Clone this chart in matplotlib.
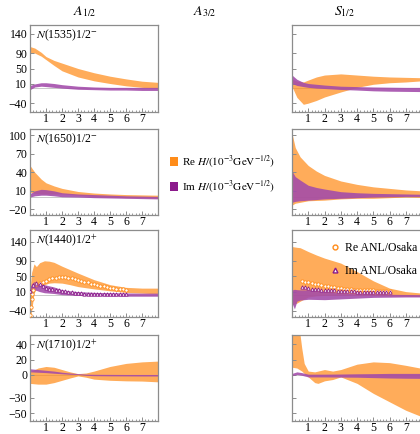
import numpy as np
import matplotlib
matplotlib.use("Agg")
import matplotlib.pyplot as plt
from matplotlib.patches import Patch
from matplotlib.lines import Line2D
from matplotlib.ticker import MultipleLocator

plt.rcParams['font.family'] = ['Liberation Serif', 'DejaVu Serif']
plt.rcParams['mathtext.fontset'] = 'stix'

# ---- data ----
col_titles = [r'$A_{1/2}$', r'$A_{3/2}$', r'$S_{1/2}$']
row_labels = [r'$N$(1535)1/2$^{-}$', r'$N$(1650)1/2$^{-}$',
              r'$N$(1440)1/2$^{+}$', r'$N$(1710)1/2$^{+}$']
row_ylims = [(-63, 163), (-29, 110), (-56, 170), (-60, 52)]
row_yticks = [[140, 90, 50, 10, -40], [100, 70, 40, 10, -20],
              [140, 90, 50, 10, -40], [40, 20, 0, -30, -50]]

# N(1535) A1/2
a1535_x = [0, 0.3, 0.7, 1, 1.5, 2, 3, 4, 5, 6, 7, 8]
a1535_re_hi = [107, 103, 92, 81, 71, 64, 50, 39, 30, 23, 17, 14]
a1535_re_lo = [92, 90, 82, 73, 58, 44, 28, 18, 11, 5, 1, -2]
a1535_im_hi = [6, 10, 13, 13, 11, 8, 4, 2, 1, 1, 1, 1]
a1535_im_lo = [-5, 2, 4, 3, 1, -1, -4, -5, -6, -6, -7, -7]
# N(1535) S1/2
s1535_x = [0, 0.3, 0.7, 1, 1.5, 2, 3, 4, 5, 6, 7, 8]
s1535_re_hi = [22, 17, 15, 20, 28, 33, 36, 33, 30, 28, 27, 26]
s1535_re_lo = [3, -25, -43, -40, -33, -24, -11, 1, 9, 13, 15, 18]
s1535_im_hi = [33, 22, 14, 11, 9, 7, 4, 3, 2, 1.5, 1, 1]
s1535_im_lo = [11, 6, 3, 1, -1, -2, -4.5, -6, -8, -9, -9.5, -10]

# N(1650) A1/2
a1650_x = [0, 0.3, 0.7, 1, 1.5, 2, 3, 4, 5, 6, 7, 8]
a1650_re_hi = [51, 40, 29, 23, 18, 14, 9, 6.5, 5, 4, 3.5, 3]
a1650_re_lo = [8, 6, 5, 5, 5, 5, 3, 1, 0, -1, -1, -2]
a1650_im_hi = [5.5, 10, 12.5, 12, 10, 7, 5, 4, 3, 2, 1.5, 1]
a1650_im_lo = [0, 2, 3, 3, 2, 0.5, 0, -1, -1.5, -2, -2.5, -3]
# N(1650) S1/2
s1650_x = [0, 0.2, 0.5, 1, 1.5, 2, 3, 4, 5, 6, 7, 8]
s1650_re_hi = [103, 80, 65, 51, 42, 35, 26, 20.5, 16.5, 14, 11.5, 10]
s1650_re_lo = [-13, -10, -8.5, -6, -5.5, -5, -3, -2, -2, -1, 0, -0.5]
s1650_im_hi = [42, 33, 27.5, 19, 15.5, 13, 8.7, 7, 6, 5.5, 5, 4.5]
s1650_im_lo = [-8.5, -7, -6, -5, -4, -3, -2, -1, 0, 0.5, 1, 1]

# N(1440) A1/2
a1440_x = [0, 0.1, 0.25, 0.4, 0.6, 0.9, 1.2, 1.5, 2, 2.5, 3, 4, 5, 6, 7, 8]
a1440_re_hi = [10, 60, 82, 75, 85, 90, 89, 86, 76, 67, 58, 41, 28, 21, 19, 19]
a1440_re_lo = [-58, -40, 5, 20, 22, 28, 32, 33, 32, 28, 23, 17, 12, 8, 6, 4]
a1440_im_hi = [19, 30, 36, 34, 31, 28, 25, 22, 15, 12, 10, 8, 7, 6.5, 6, 6]
a1440_im_lo = [6, 10, 14, 13, 10, 7, 6, 5, 2, 1, 0, -1, -1.5, -2, -2, -2]
# N(1440) S1/2
s1440_x = [0, 0.15, 0.3, 0.5, 1, 1.5, 2, 3, 4, 5, 6, 7, 8]
s1440_re_hi = [127, 126, 125, 124, 114, 105, 97, 84, 62, 38, 19, 10, 6]
s1440_re_lo = [-24, -22, -20, -15, -4, -1, 0, 0, 0, 0, -1, -2, -3]
s1440_im_hi = [14, 16, 15, 14.5, 14.5, 12, 10, 6, 4.5, 3.5, 3, 2.5, 2]
s1440_im_lo = [-20, -35, -15, -12, -10, -10.5, -11, -9, -7, -5, -4.5, -4, -4]

# N(1710) A1/2
a1710_x = [0, 0.5, 1, 1.5, 2, 2.5, 3, 3.5, 4, 5, 6, 7, 8]
a1710_re_hi = [4, 9, 11, 10, 7, 4, 1.7, 2.5, 5, 11, 15, 17, 18]
a1710_re_lo = [-11, -12, -12, -10, -7, -4, -1.3, -3, -5.5, -7, -7.7, -8, -9]
a1710_im_hi = [8, 7, 6, 5, 3.5, 2.5, 1.7, 1, 0.8, 0.7, 0.6, 0.6, 0.6]
a1710_im_lo = [4, 3.5, 3, 2.2, 1.5, 0.8, 0.6, -0.5, -1, -1.2, -1.3, -1.4, -1.4]
# N(1710) S1/2
s1710_x = [0, 0.3, 0.45, 0.6, 0.75, 1, 1.4, 1.6, 2, 2.5, 3, 4, 5, 6, 7, 8]
s1710_re_hi = [90, 80, 60, 35, 15, 5, 4, 5, 7, 5, 7, 14, 17, 16, 12.5, 8.5]
s1710_re_lo = [10, 9, 7, 5, 2, -2.6, -10, -11, -7.7, -6, -2.6, -11, -24, -35, -46, -54.5]
s1710_im_x = [0, 0.3, 0.6, 1, 2, 3, 4, 5, 6, 7, 8]
s1710_im_hi = [2, 4, 3, 1, 1, 1.2, 1.5, 1.7, 2, 2, 2]
s1710_im_lo = [-1, 0.6, -0.5, -2.6, -2.6, -2.8, -3, -3.5, -4, -4.3, -4.5]

# ANL/Osaka points, N(1440)
anl_a_re_x = [0.02, 0.06, 0.1, 0.14] + list(np.round(np.arange(0.2, 6.01, 0.2), 1))
anl_a_re = [-50, -30, -10, 5, 15, 30, 32, 35, 38, 42, 45, 46, 47, 47.5, 47, 46, 45,
            42, 40, 38, 36, 34, 31, 29, 27, 25, 23.5, 22, 20.5, 19.5, 18, 17, 16, 15]
anl_a_im_x = list(np.round(np.arange(0, 6.01, 0.2), 1))
anl_a_im = [12, 28, 32, 30, 24, 20.6, 18, 16, 14.5, 13, 12, 11, 10, 9, 7, 6, 5.5,
            5, 5, 4.5, 4.4, 4.2, 4.1, 4, 4, 4, 4, 4, 4, 4, 4]
anl_s_x = list(np.round(np.arange(0.6, 6.01, 0.2), 1))
anl_s_re = [38, 36, 34.6, 33, 31, 29, 27, 25, 24, 23, 21, 20, 19, 18, 17, 16, 15,
            14.5, 14, 13.8, 13.5, 13.2, 13, 12.8, 12.5, 12.3, 12.1, 12]
anl_s_im = [23, 21, 19, 18, 17, 16, 15, 14.5, 14, 13.5, 13, 12.5, 12, 11.5, 11,
            10.8, 10.5, 10, 10, 10, 10, 10, 10, 10, 10, 10, 10, 10]

panels = [
    [(a1535_x, a1535_re_lo, a1535_re_hi, a1535_x, a1535_im_lo, a1535_im_hi),
     (s1535_x, s1535_re_lo, s1535_re_hi, s1535_x, s1535_im_lo, s1535_im_hi)],
    [(a1650_x, a1650_re_lo, a1650_re_hi, a1650_x, a1650_im_lo, a1650_im_hi),
     (s1650_x, s1650_re_lo, s1650_re_hi, s1650_x, s1650_im_lo, s1650_im_hi)],
    [(a1440_x, a1440_re_lo, a1440_re_hi, a1440_x, a1440_im_lo, a1440_im_hi),
     (s1440_x, s1440_re_lo, s1440_re_hi, s1440_x, s1440_im_lo, s1440_im_hi)],
    [(a1710_x, a1710_re_lo, a1710_re_hi, a1710_x, a1710_im_lo, a1710_im_hi),
     (s1710_x, s1710_re_lo, s1710_re_hi, s1710_im_x, s1710_im_lo, s1710_im_hi)],
]

orange = '#ff8c1a'
purple = '#8b1a8b'
band_purple = '#a24aaa'
frame = '#8c8c8c'

W, H = 420, 434
fig = plt.figure(figsize=(W / 100, H / 100), dpi=100)

col_px = [(30, 128), (292, 130)]
row_px = [(25, 112), (129, 215), (230, 317), (335, 421)]

axes = {}
for r, (top, bot) in enumerate(row_px):
    for c, (left, width) in enumerate(col_px):
        ax = fig.add_axes([left / W, 1 - bot / H, width / W, (bot - top) / H])
        axes[(r, c)] = ax
        xr, rlo, rhi, xi, ilo, ihi = panels[r][c]
        ax.axhline(0, color='#c8c8c8', lw=0.7, zorder=0)
        ax.fill_between(xr, rlo, rhi, color=orange, alpha=0.72, lw=0, zorder=1)
        ax.fill_between(xi, ilo, ihi, color=band_purple, alpha=0.88, lw=0, zorder=2)
        ax.set_xlim(0, 8)
        ax.set_ylim(*row_ylims[r])
        ax.set_yticks(row_yticks[r])
        ax.set_xticks(range(1, 8))
        ax.xaxis.set_minor_locator(MultipleLocator(0.2))
        ax.tick_params(which='both', direction='in', color=frame, top=False,
                       right=False, labelsize=8.5, pad=2)
        ax.tick_params(which='major', length=3, width=0.7)
        ax.tick_params(which='minor', length=1.5, width=0.6)
        ax.tick_params(axis='x', pad=0.5)
        if c == 1:
            ax.tick_params(labelleft=False)
        for s in ax.spines.values():
            s.set_color(frame)
            s.set_linewidth(0.9)
        if c == 0:
            ax.text(0.05, 0.97, row_labels[r], transform=ax.transAxes,
                    ha='left', va='top', fontsize=8.5)

# ANL/Osaka markers in the N(1440) row
mk = dict(ls='none', ms=2.4, mew=0.6, mfc='white', zorder=4)
axes[(2, 0)].plot(anl_a_re_x, anl_a_re, marker='o', mec=orange, **mk)
axes[(2, 0)].plot(anl_a_im_x, anl_a_im, marker='^', mec=purple, **mk)
axes[(2, 1)].plot(anl_s_x, anl_s_re, marker='o', mec=orange, **mk)
axes[(2, 1)].plot(anl_s_x, anl_s_im, marker='^', mec=purple, **mk)
anl_handles = [Line2D([], [], marker='o', mec=orange, mfc='white', ls='none', ms=3.5, mew=1),
               Line2D([], [], marker='^', mec=purple, mfc='white', ls='none', ms=3.5, mew=1)]
axes[(2, 1)].legend(anl_handles, ['Re ANL/Osaka', 'Im ANL/Osaka'], loc='upper left',
                    bbox_to_anchor=(0.2, 0.98), frameon=False, fontsize=8.5,
                    handlelength=1.0, handletextpad=0.4, labelspacing=0.9)

# column titles
for txt, xp in zip(col_titles, [85, 205, 345]):
    fig.text(xp / W, 1 - 12 / H, txt, ha='center', va='center', fontsize=10)

# band legend in the empty middle column
band_handles = [Patch(facecolor=orange, edgecolor='none'),
                Patch(facecolor=purple, edgecolor='none')]
fig.legend(band_handles,
           [r'Re $H/(10^{-3}\mathrm{GeV}^{-1/2})$', r'Im $H/(10^{-3}\mathrm{GeV}^{-1/2})$'],
           loc='upper left', bbox_to_anchor=(166 / W, 1 - 149 / H), frameon=False,
           fontsize=8, handlelength=0.7, handleheight=0.8, handletextpad=0.3,
           labelspacing=0.8, borderaxespad=0)

fig.savefig('out.png', dpi=100)
